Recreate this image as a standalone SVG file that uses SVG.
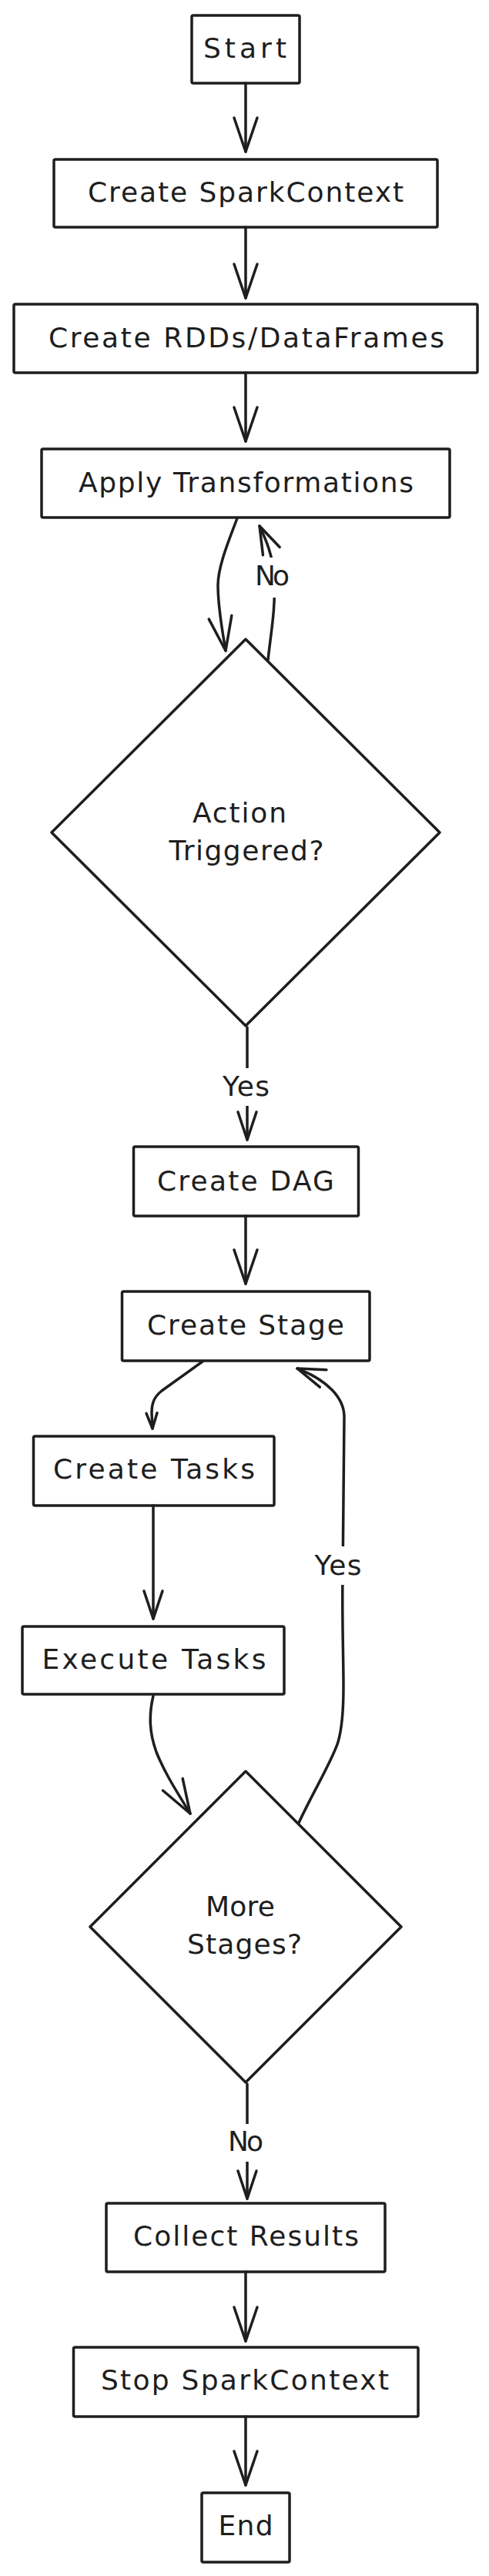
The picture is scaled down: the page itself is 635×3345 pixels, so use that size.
<svg xmlns="http://www.w3.org/2000/svg" width="635" height="3345" viewBox="0 0 635 3345">
<style>
  .node rect, .node polygon { fill:#fff; stroke:#1e1e1e; stroke-width:3.5; stroke-linejoin:round; }
  text { font-family:"DejaVu Sans","Liberation Sans",sans-serif; font-size:36px; fill:#1e1e1e; text-anchor:middle; }
  .edge { fill:none; stroke:#1e1e1e; stroke-width:3.5; stroke-linecap:round; stroke-linejoin:round; }
  .ah { fill:none; stroke:#1e1e1e; stroke-width:3.5; stroke-linecap:round; stroke-linejoin:round; }
  .lbl rect { fill:#fff; stroke:none; }
</style>
<defs>
  <marker id="ahL" markerUnits="userSpaceOnUse" viewBox="-50 -20 60 40" markerWidth="60" markerHeight="40" refX="0" refY="0" orient="auto" overflow="visible">
    <path class="ah" d="M-44,-15 L0,0 L-44,15"/>
  </marker>
  <marker id="ahM" markerUnits="userSpaceOnUse" viewBox="-50 -20 60 40" markerWidth="60" markerHeight="40" refX="0" refY="0" orient="auto" overflow="visible">
    <path class="ah" d="M-36,-12 L0,0 L-36,12"/>
  </marker>
  <marker id="ahS" markerUnits="userSpaceOnUse" viewBox="-50 -20 60 40" markerWidth="60" markerHeight="40" refX="0" refY="0" orient="auto" overflow="visible">
    <path class="ah" d="M-20,-7 L0,0 L-20,7"/>
  </marker>
</defs>
<rect x="0" y="0" width="635" height="3345" fill="#fff"/>

<g id="node-start" class="node">
  <rect x="249" y="20" width="140" height="88" rx="2"/>
  <text x="318" y="75" textLength="108">Start</text>
</g>
<g id="node-create-sparkcontext" class="node">
  <rect x="70" y="207" width="498" height="88" rx="2"/>
  <text x="319" y="262" textLength="410">Create SparkContext</text>
</g>
<g id="node-create-rdds" class="node">
  <rect x="18" y="395" width="602" height="89" rx="2"/>
  <text x="320" y="451" textLength="514">Create RDDs/DataFrames</text>
</g>
<g id="node-apply-transformations" class="node">
  <rect x="54" y="583" width="530" height="89" rx="2"/>
  <text x="319.5" y="639" textLength="435">Apply Transformations</text>
</g>
<g id="node-action-triggered" class="node">
  <polygon points="319,830 571,1081 319,1332 67,1081"/>
  <text x="311" y="1068" textLength="122">Action</text>
  <text x="320" y="1117" textLength="201">Triggered?</text>
</g>
<g id="node-create-dag" class="node">
  <rect x="173.5" y="1489" width="292" height="90" rx="2"/>
  <text x="319" y="1546" textLength="230">Create DAG</text>
</g>
<g id="node-create-stage" class="node">
  <rect x="158.5" y="1677" width="321.5" height="90" rx="2"/>
  <text x="319" y="1733" textLength="256">Create Stage</text>
</g>
<g id="node-create-tasks" class="node">
  <rect x="43.5" y="1865" width="312.5" height="90" rx="2"/>
  <text x="200" y="1920" textLength="262">Create Tasks</text>
</g>
<g id="node-execute-tasks" class="node">
  <rect x="29" y="2112" width="340" height="88" rx="2"/>
  <text x="200" y="2167" textLength="291">Execute Tasks</text>
</g>
<g id="node-more-stages" class="node">
  <polygon points="319,2300 521,2502 319,2704 117,2502"/>
  <text x="312" y="2488" textLength="90">More</text>
  <text x="317.5" y="2537" textLength="149">Stages?</text>
</g>
<g id="node-collect-results" class="node">
  <rect x="138" y="2861" width="362" height="89" rx="2"/>
  <text x="319.5" y="2916" textLength="293">Collect Results</text>
</g>
<g id="node-stop-sparkcontext" class="node">
  <rect x="95.5" y="3048" width="447.5" height="90" rx="2"/>
  <text x="318" y="3103" textLength="374">Stop SparkContext</text>
</g>
<g id="node-end" class="node">
  <rect x="262" y="3237" width="114" height="90" rx="2"/>
  <text x="319" y="3292" textLength="71">End</text>
</g>

<g id="connectors">
  <path class="edge" marker-end="url(#ahL)" d="M319,108 L319,197"/>
  <path class="edge" marker-end="url(#ahL)" d="M319,295 L319,387"/>
  <path class="edge" marker-end="url(#ahL)" d="M319,484 L319,573"/>
  <path class="edge" marker-end="url(#ahL)" d="M308,673 C298,700 283,735 283,760 C283,790 289,820 293,845"/>
  <path class="edge" marker-end="url(#ahM)" d="M348,857 C352,820 358,790 356,752 C355,722 345,700 337,683"/>
  <path class="edge" marker-end="url(#ahM)" d="M321,1334 L321,1480"/>
  <path class="edge" marker-end="url(#ahL)" d="M319,1579 L319,1667"/>
  <path class="edge" marker-end="url(#ahS)" d="M263,1768 L210,1806 C200,1814 197,1822 197,1835 L198,1855"/>
  <path class="edge" marker-end="url(#ahM)" d="M199,1955 L199,2102"/>
  <path class="edge" marker-end="url(#ahL)" d="M199,2202 C193,2228 194,2250 203,2275 C215,2305 232,2330 247,2355"/>
  <path class="edge" marker-end="url(#ahM)" d="M388,2367 C405,2330 432,2285 439,2262 C444,2245 446,2220 446,2190 C446,2150 444,2100 445,2050 L447,1840 C447,1815 425,1792 386,1777"/>
  <path class="edge" marker-end="url(#ahM)" d="M321,2706 L321,2855"/>
  <path class="edge" marker-end="url(#ahL)" d="M319,2950 L319,3040"/>
  <path class="edge" marker-end="url(#ahL)" d="M319,3138 L319,3227"/>
</g>

<g id="edge-labels" class="lbl">
  <rect x="330" y="724" width="47" height="52"/>
  <text x="353.5" y="760" textLength="45">No</text>
  <rect x="288" y="1387" width="63" height="49"/>
  <text x="319.5" y="1423" textLength="61">Yes</text>
  <rect x="407" y="2008" width="64" height="50"/>
  <text x="439" y="2045" textLength="61">Yes</text>
  <rect x="294" y="2758" width="50" height="49"/>
  <text x="319" y="2793" textLength="46">No</text>
</g>
</svg>
